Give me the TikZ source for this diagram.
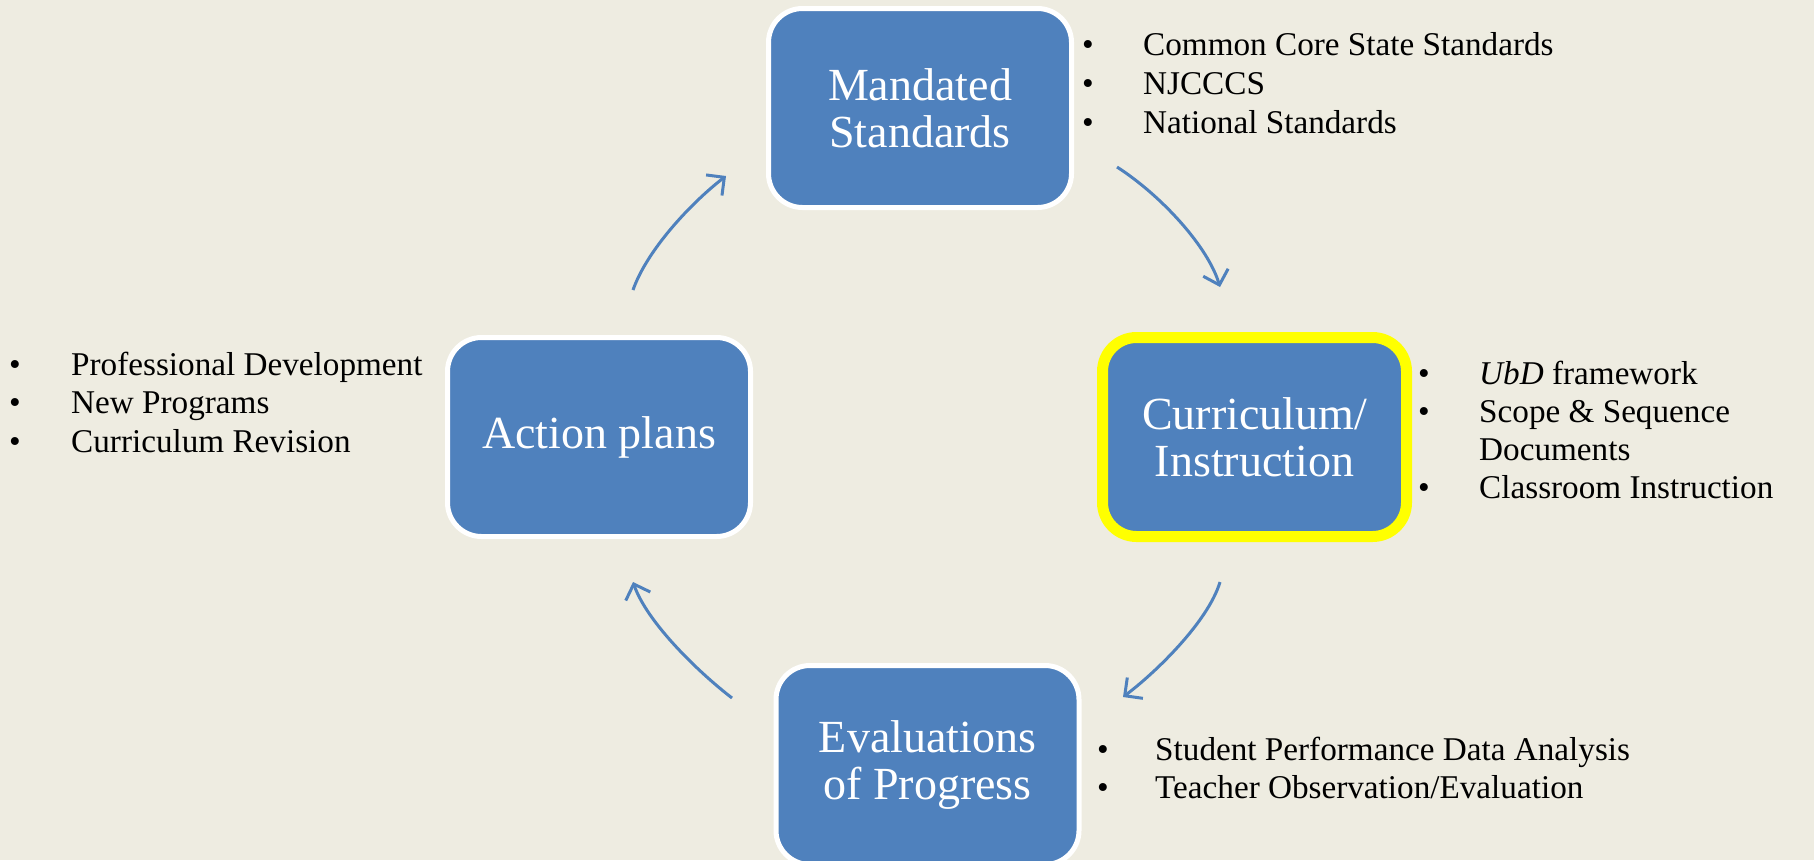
\documentclass[tikz,border=0pt]{standalone}
\usepackage{fontspec}
\setmainfont{Liberation Serif}
\usetikzlibrary{arrows.meta}
\definecolor{bg}{RGB}{238,236,225}
\definecolor{boxblue}{RGB}{79,129,189}
\definecolor{hl}{RGB}{255,255,0}
\begin{document}
\begin{tikzpicture}[x=1pt,y=-1pt,
  stage/.style={draw=white,line width=5pt,fill=boxblue,rounded corners=34pt,
    minimum width=303pt,minimum height=199pt,text=white,align=center,
    font=\fontsize{46}{47}\selectfont,inner sep=0pt},
  hlstage/.style={stage,draw=hl,line width=11pt,minimum width=304pt,minimum height=199pt},
  bul/.style={anchor=base,inner sep=0pt,font=\fontsize{33.2}{38}\selectfont},
  itm/.style={anchor=base west,inner sep=0pt,font=\fontsize{33.2}{38}\selectfont},
  flow/.style={draw=boxblue,line width=3pt,-{Straight Barb[length=13pt,width=26pt]}}]
\useasboundingbox (0,0) rectangle (1814,860);
\clip (0,0) rectangle (1814,860);
\fill[bg] (0,0) rectangle (1814,860);

% boxes
\node[stage] (ms) at (920,108) {Mandated\\Standards};
\node[hlstage] (ci) at (1254.5,437) {Curriculum/\\Instruction};
\node[stage] (ev) at (927.5,765) {Evaluations\\of Progress};
\node[stage] (ap) at (599,437) {Action plans};

% arrows
\coordinate (a1s) at (1117,167); \coordinate (a1e) at (1220,287);
\coordinate (a2s) at (1220,582); \coordinate (a2e) at (1123,697);
\coordinate (a3s) at (732,698);  \coordinate (a3e) at (633,582);
\coordinate (a4s) at (633,290);  \coordinate (a4e) at (726,176);
\draw[flow] (a1s) .. controls (1162,196) and (1208,247) .. (a1e);
\draw[flow] (a2s) .. controls (1208,622) and (1155,673) .. (a2e);
\draw[flow] (a3s) .. controls (697,671) and (647,622) .. (a3e);
\draw[flow] (a4s) .. controls (647,250) and (691,203) .. (a4e);

% top list
\node[bul] (tb1) at (1088,55) {•};
\node[itm] (tt1) at (1143,55) {Common Core State Standards};
\node[bul] (tb2) at (1088,94) {•};
\node[itm] (tt2) at (1143,94) {NJCCCS};
\node[bul] (tb3) at (1088,133) {•};
\node[itm] (tt3) at (1143,133) {National Standards};

% right list
\node[bul] (rb1) at (1424,384.5) {•};
\node[itm] (rt1) at (1479,384.5) {\textit{UbD} framework};
\node[bul] (rb2) at (1424,422.5) {•};
\node[itm] (rt2) at (1479,422.5) {Scope \& Sequence};
\node[itm] (rt3) at (1479,460.5) {Documents};
\node[bul] (rb4) at (1424,498.5) {•};
\node[itm] (rt4) at (1479,498.5) {Classroom Instruction};

% bottom list
\node[bul] (bb1) at (1103,760) {•};
\node[itm] (bt1) at (1155,760) {Student Performance Data Analysis};
\node[bul] (bb2) at (1103,798) {•};
\node[itm] (bt2) at (1155,798) {Teacher Observation/Evaluation};

% left list
\node[bul] (lb1) at (15,375) {•};
\node[itm] (lt1) at (71,375) {Professional Development};
\node[bul] (lb2) at (15,413) {•};
\node[itm] (lt2) at (71,413) {New Programs};
\node[bul] (lb3) at (15,452) {•};
\node[itm] (lt3) at (71,452) {Curriculum Revision};
\end{tikzpicture}
\end{document}
